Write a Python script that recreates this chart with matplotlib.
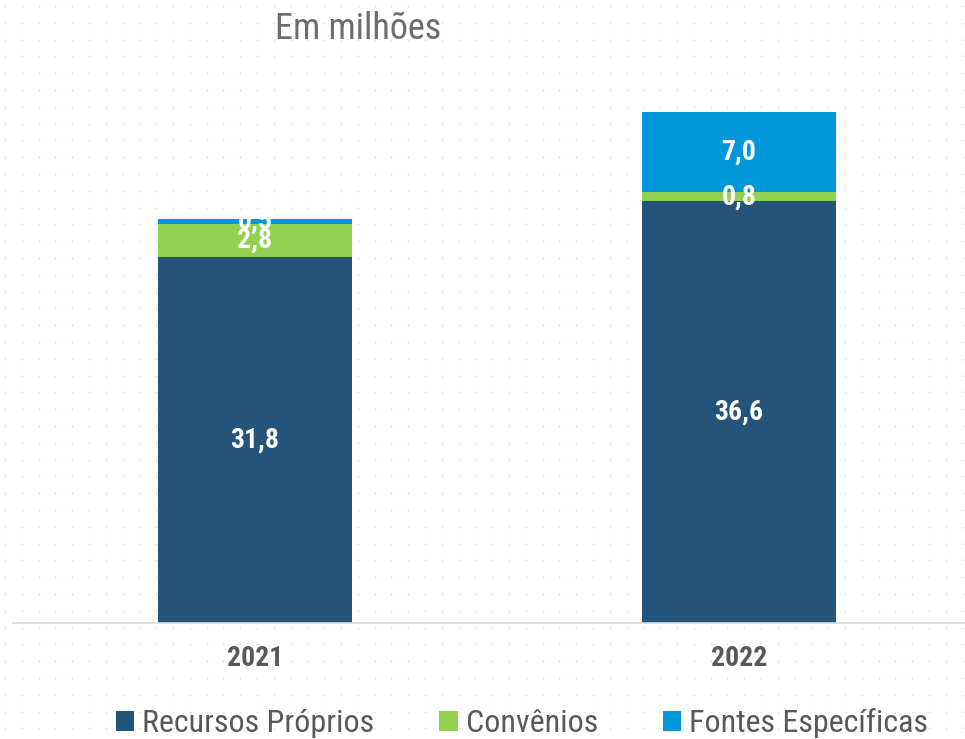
import matplotlib
matplotlib.use("Agg")
import matplotlib.pyplot as plt
import numpy as np

# valores em milhões
years = ["2021", "2022"]
recursos_proprios = [31.8, 36.6]
convenios = [2.8, 0.8]
fontes_especificas = [0.5, 7.0]

series_names = ["Recursos Próprios", "Convênios", "Fontes Específicas"]
colors = ["#245479", "#92d050", "#0098da"]

plt.rcParams['font.family'] = ['Roboto Condensed', 'DejaVu Sans']

W, H = 965, 739
fig = plt.figure(figsize=(W / 100, H / 100), dpi=100)

# fundo pontilhado
bg = fig.add_axes([0, 0, 1, 1], zorder=-10)
bg.set_xlim(0, W)
bg.set_ylim(H, 0)
gx, gy = np.meshgrid(np.arange(5, W, 16.8), np.arange(6, H, 16.8))
bg.scatter(gx.ravel(), gy.ravel(), s=2.2, color="#e3e3e3", linewidths=0)
bg.axis("off")

base_y = 623
ax = fig.add_axes([13 / W, (H - base_y) / H, (W - 13) / W, base_y / H])
ax.patch.set_alpha(0)

x = np.arange(len(years))
bottom = np.zeros(len(years))
for name, vals, c in zip(series_names, [recursos_proprios, convenios, fontes_especificas], colors):
    bars = ax.bar(x, vals, width=0.4, bottom=bottom, color=c, label=name)
    ax.bar_label(bars, labels=[f"{v:.1f}".replace(".", ",") for v in vals],
                 label_type="center", color="white", fontsize=20, fontweight="bold")
    bottom += np.array(vals)

ax.set_xlim(-0.5, 1.467)
ax.set_ylim(0, 623 / 11.52)
ax.set_xticks(x)
ax.set_xticklabels(years, fontsize=20, fontweight="bold", color="#595959")
ax.tick_params(axis="x", length=0, pad=16)
ax.set_yticks([])
for s in ["top", "right", "left"]:
    ax.spines[s].set_visible(False)
ax.spines["bottom"].set_color("#d9d9d9")
ax.spines["bottom"].set_linewidth(1.2)

fig.text(275 / W, 1 - 29 / H, "Em milhões", fontsize=26, color="#6f6b6b",
         ha="left", va="center")

leg = fig.legend(loc="center", bbox_to_anchor=(522 / W, 1 - 723 / H), ncol=3,
                 frameon=False, fontsize=23, handlelength=0.57, handleheight=0.57,
                 handletextpad=0.25, columnspacing=2.05, borderaxespad=0)
for t in leg.get_texts():
    t.set_color("#595959")

fig.savefig("out.png", dpi=100)
